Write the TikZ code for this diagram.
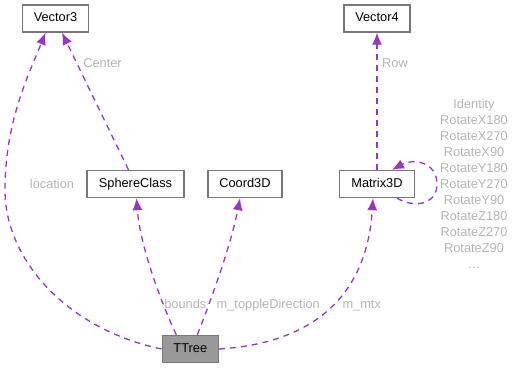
\documentclass[tikz,border=0pt]{standalone}
\usepackage{fontspec}
\setmainfont{Liberation Sans}
\usetikzlibrary{arrows.meta,positioning}

\definecolor{edgepurple}{HTML}{9A32CD}
\definecolor{boxline}{HTML}{777777}
\definecolor{lblgray}{HTML}{B4B4B4}
\definecolor{mainfill}{HTML}{999999}

\tikzset{
  cls/.style={draw=boxline,line width=1.4pt,fill=white,rectangle,inner sep=0pt,
    minimum height=27pt,text height=9.2pt,text depth=2.6pt,
    font=\fontsize{12.8}{15}\selectfont},
  link/.style={draw=edgepurple,line width=1.3pt,dash pattern=on 6pt off 5pt,
    -{Latex[length=12pt,width=10pt]}},
  lbl/.style={text=lblgray,inner sep=0pt,anchor=base,
    font=\fontsize{12.8}{16}\selectfont}
}

\begin{document}
\begin{tikzpicture}[x=1pt,y=-1pt]
\useasboundingbox (0,0) rectangle (512,368);

% classes
\node[cls,minimum width=66pt] (Vector3) at (55.5,18.5) {Vector3};
\node[cls,minimum width=66pt] (Vector4) at (377,18.5) {Vector4};
\node[cls,minimum width=97pt] (SphereClass) at (135.5,184) {SphereClass};
\node[cls,minimum width=74pt] (Coord3D) at (245,184) {Coord3D};
\node[cls,minimum width=75pt] (Matrix3D) at (377,184) {Matrix3D};
\node[cls,minimum width=56pt,fill=mainfill] (TTree) at (190.3,349) {TTree};

% members of TTree
\draw[link] (TTree.west) .. controls (70,330) and (5,262) .. (5,190)
  .. controls (5,120) and (30,72) .. ([xshift=-10pt]Vector3.south);%
\draw[link] ([xshift=-14pt]TTree.north) .. controls (160,300) and (140,245) .. ([xshift=1pt]SphereClass.south);%
\draw[link] ([xshift=7pt]TTree.north) .. controls (215,290) and (232,240) .. ([xshift=-5pt]Coord3D.south);%
\draw[link] (TTree.east) .. controls (330,342) and (368,280) .. ([xshift=-4pt]Matrix3D.south);%

% members of the other classes
\draw[link] ([xshift=-7pt]SphereClass.north) -- ([xshift=6.5pt]Vector3.south);%
\draw[link] (Matrix3D.north) -- (Vector4.south);%
\draw[link] ([xshift=20pt]Matrix3D.south) .. controls (418,210) and (438,202) .. (437,183)
  .. controls (436,162) and (414,158) .. ([xshift=15pt]Matrix3D.north);%

% edge labels
\node[lbl] (lLocation) at (52,188) {location};
\node[lbl] (lCenter) at (102.5,67.7) {Center};
\node[lbl] (lBounds) at (185.3,308) {bounds};
\node[lbl] (lTopple) at (268.3,308) {m\_toppleDirection};
\node[lbl] (lMtx) at (361.7,308) {m\_mtx};
\node[lbl] (lRow) at (395,67.7) {Row};
\node[lbl,align=center,anchor=north] (lSelf) at (474,99.5)
  {Identity\\RotateX180\\RotateX270\\RotateX90\\RotateY180\\RotateY270\\RotateY90\\RotateZ180\\RotateZ270\\RotateZ90\\\dots};

\end{tikzpicture}
\end{document}
